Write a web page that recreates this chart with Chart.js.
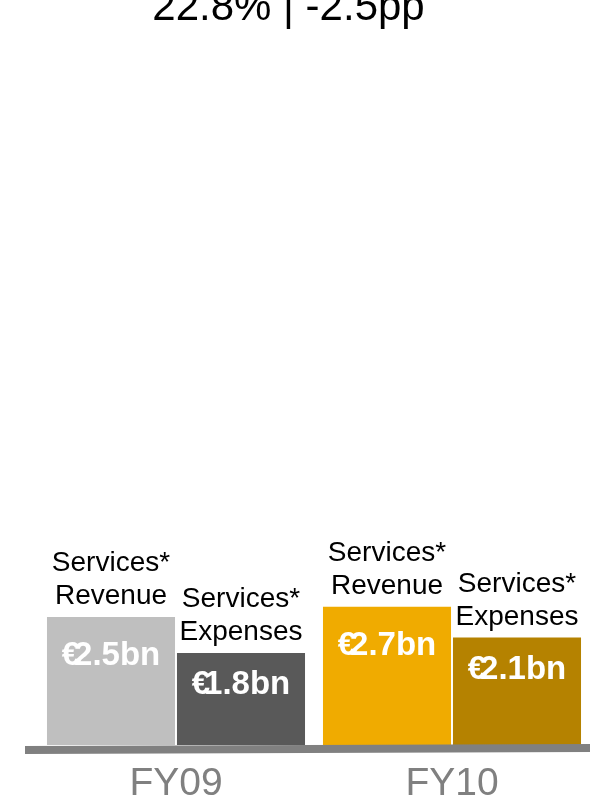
<!DOCTYPE html>
<html>
<head>
<meta charset="utf-8">
<script src="https://cdn.jsdelivr.net/npm/chart.js@4"></script>
<style>
  html, body { margin: 0; padding: 0; background: #fff; }
  #wrap { width: 590px; height: 801px; }
</style>
</head>
<body>
<div id="wrap"><canvas id="canvas" width="590" height="801"></canvas></div>
<script>
// data
const headline = "22.8% | -2.5pp";
const years = ["FY09", "FY10"];
const revenue = [2.5, 2.7];
const expenses = [1.8, 2.1];
const revenueName = ["Services*", "Revenue"];
const expensesName = ["Services*", "Expenses"];

const FONT = "'Liberation Sans', Arial, sans-serif";

// euro sign sits tight against the number, like the slide
function drawAmount(ctx, v, x, y) {
  const sign = "\u20AC";
  const rest = v.toFixed(1) + "bn";
  const ws = ctx.measureText(sign).width;
  const wr = ctx.measureText(rest).width;
  const tuck = 6;
  const left = x - (ws + wr - tuck) / 2;
  ctx.textAlign = "left";
  ctx.fillText(sign, left, y);
  ctx.fillText(rest, left + ws - tuck, y);
  ctx.textAlign = "center";
}

// names above the bars, amounts inside them, thick grey floor line
const barText = {
  id: "barText",
  afterDatasetsDraw(chart) {
    const ctx = chart.ctx;
    ctx.save();
    ctx.textAlign = "center";
    ctx.textBaseline = "alphabetic";
    chart.data.datasets.forEach(function (ds, i) {
      const meta = chart.getDatasetMeta(i);
      meta.data.forEach(function (bar, j) {
        ctx.fillStyle = "#000";
        ctx.font = "28px " + FONT;
        ds.names.forEach(function (line, k) {
          const n = ds.names.length - 1 - k;
          ctx.fillText(line, bar.x, bar.y - 13 - n * 33);
        });
        ctx.fillStyle = "#fff";
        ctx.font = "bold 33px " + FONT;
        drawAmount(ctx, ds.data[j], bar.x, bar.y + ds.amountDrop);
      });
    });
    const y0 = chart.scales.y.getPixelForValue(0);
    ctx.strokeStyle = "#808080";
    ctx.lineWidth = 8;
    ctx.beginPath();
    ctx.moveTo(25, y0 + 5);
    ctx.lineTo(chart.width, y0 + 3);
    ctx.stroke();
    ctx.restore();
  },
};

const config = {
  type: "bar",
  data: {
    labels: years,
    datasets: [
      {
        label: "Services Revenue",
        names: revenueName,
        amountDrop: 48,
        data: revenue,
        backgroundColor: ["#BFBFBF", "#F0AB00"],
        categoryPercentage: 0.942,
        barPercentage: 0.985,
      },
      {
        label: "Services Expenses",
        names: expensesName,
        amountDrop: 41,
        data: expenses,
        backgroundColor: ["#595959", "#B58200"],
        categoryPercentage: 0.942,
        barPercentage: 0.985,
      },
    ],
  },
  options: {
    responsive: false,
    animation: false,
    layout: { padding: { left: -13, right: 0, top: 0, bottom: -23 } },
    plugins: {
      legend: { display: false },
      tooltip: { enabled: false },
      title: {
        display: true,
        text: headline,
        color: "#000",
        font: { family: FONT, size: 42, weight: "normal", lineHeight: 1 },
        padding: { top: -13, bottom: 102 },
      },
    },
    scales: {
      x: {
        grid: { display: false, drawTicks: false },
        border: { display: false },
        ticks: {
          color: "#808080",
          padding: 20,
          font: { family: FONT, size: 39, lineHeight: 1 },
        },
      },
      y: {
        min: 0,
        max: 12,
        grid: { display: false, drawTicks: false },
        border: { display: false },
        ticks: { display: false },
        afterFit(scale) {
          scale.width = 51;
        },
      },
    },
  },
  plugins: [barText],
};

const myChart = new Chart(document.getElementById("canvas"), config);
</script>
</body>
</html>
